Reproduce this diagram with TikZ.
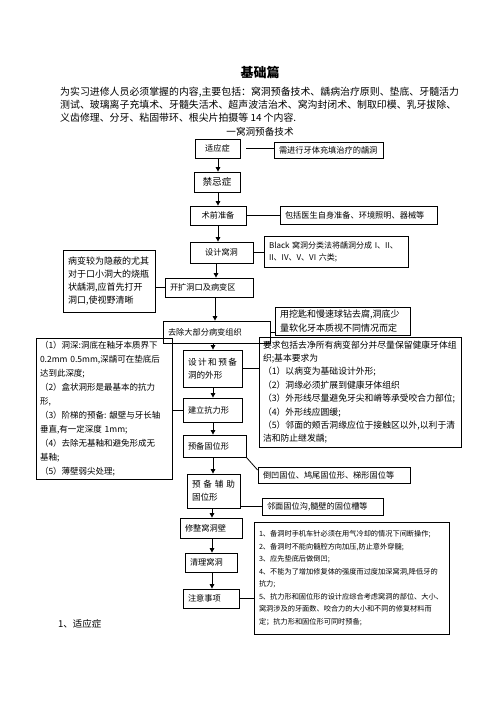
\documentclass[tikz,border=0pt]{standalone}
\usepackage{fontspec}
\setmainfont{Noto Sans CJK SC}
\usetikzlibrary{arrows.meta}
\begin{document}
\begin{tikzpicture}[x=1pt,y=-1pt,
  bx/.style={draw, line width=0.8pt, inner ysep=0pt, inner xsep=5pt, align=left, font=\fontsize{8.2}{12}\selectfont},
  conn/.style={line width=0.8pt},
  arr/.style={line width=1pt, -{Triangle[length=4.5pt,width=4.5pt]}},
  txt/.style={inner sep=0pt, align=left}
  ]
\useasboundingbox (0,0) rectangle (496,702);
\fill[white] (0,0) rectangle (496,702);

% texts
\node[txt, font=\fontsize{13}{15}\selectfont\bfseries] (title) at (260,73) {基础篇};
\node[txt, anchor=north west, font=\fontsize{9.9}{13}\selectfont] (intro) at (60,87) {为实习进修人员必须掌握的内容,主要包括：窝洞预备技术、龋病治疗原则、垫底、牙髓活力\\测试、玻璃离子充填术、牙髓失活术、超声波洁治术、窝沟封闭术、制取印模、乳牙拔除、\\义齿修理、分牙、粘固带环、根尖片拍摄等~14~个内容.};
\node[txt, font=\fontsize{9.6}{12}\selectfont] (sub) at (260,132) {一窝洞预备技术};

% boxes
\node[bx, text width=35, minimum height=19, align=center] (a1) at (217.5,148.5) {适应症};
\node[bx, text width=99, minimum height=16] (a1r) at (328.5,150) {需进行牙体充填治疗的龋洞};
\node[bx, text width=36, minimum height=20, align=center, font=\fontsize{9.6}{12}\selectfont] (a2) at (217,182) {禁忌症};
\node[bx, text width=46, minimum height=19, align=center] (a3) at (218,215.5) {术前准备};
\node[bx, text width=147, minimum height=18] (a3r) at (358.5,215) {包括医生自身准备、环境照明、器械等};
\node[bx, text width=53, minimum height=21, align=center] (a4) at (221.5,252.5) {设计窝洞};
\node[bx, text width=134, minimum height=31, font=\fontsize{8}{12}\selectfont] (a4r) at (336,251.5) {Black~窝洞分类法将龋洞分成~I、II、\\II、IV、V、VI~六类;};
\node[bx, text width=82, minimum height=62, font=\fontsize{9}{12.7}\selectfont] (a5l) at (109,281) {病变较为隐蔽的尤其\\对于口小洞大的烧瓶\\状龋洞,应首先打开\\洞口,使视野清晰};
\node[bx, text width=78, minimum height=19] (a5) at (209,287.5) {开扩洞口及病变区};
\node[bx, text width=125, minimum height=28, font=\fontsize{9}{14}\selectfont] (a6r) at (342.5,321) {用挖匙和慢速球钻去腐,洞底少\\量软化牙本质视不同情况而定};
\node[bx, text width=97, minimum height=22] (a6) at (216.5,332) {去除大部分病变组织};
\node[bx, inner xsep=4pt, text width=128, minimum height=141, font=\fontsize{8.5}{14}\selectfont] (b0) at (104,408.5) {（1）洞深:洞底在釉牙本质界下\\0.2mm~0.5mm,深龋可在垫底后\\达到此深度;\\（2）盒状洞形是最基本的抗力\\形,\\（3）阶梯的预备:~龈壁与牙长轴\\垂直,有一定深度~1mm;\\（4）去除无基釉和避免形成无\\基釉;\\（5）薄壁弱尖处理;};
\node[bx, text width=49, minimum height=37, font=\fontsize{8.6}{12.5}\selectfont] (b1) at (212.5,368.5) {\makebox[49pt][s]{设\hfill 计\hfill 和\hfill 预\hfill 备}\\洞的外形};
\node[bx, inner xsep=4pt, text width=194, minimum height=110, font=\fontsize{8.8}{13.4}\selectfont] (b1r) at (360,392) {要求包括去净所有病变部分并尽量保留健康牙体组\\织;基本要求为\\（1）以病变为基础设计外形;\\（2）洞缘必须扩展到健康牙体组织\\（3）外形线尽量避免牙尖和嵴等承受咬合力部位;\\（4）外形线应圆缓;\\（5）邻面的颊舌洞缘应位于接触区以外,以利于清\\洁和防止继发龋;};
\node[bx, text width=49, minimum height=24] (b2) at (212.5,410) {建立抗力形};
\node[bx, text width=53, minimum height=22] (b3) at (214.5,446) {预备固位形};
\node[bx, text width=142, minimum height=16] (b3r) at (334,475) {倒凹固位、鸠尾固位形、梯形固位等};
\node[bx, text width=43, minimum height=34, font=\fontsize{8.6}{13}\selectfont] (b4) at (213.5,491) {\makebox[43pt][s]{预\hfill 备\hfill 辅\hfill 助}\\固位形};
\node[bx, text width=111, minimum height=17] (b4r) at (322.5,506.5) {邻面固位沟,髓壁的固位槽等};
\node[bx, text width=52, minimum height=20] (c1) at (211,528) {修整窝洞壁};
\node[bx, text width=42, minimum height=19] (c2) at (211,562.5) {清理窝洞};
\node[bx, text width=46, minimum height=19] (c3) at (211,598.5) {注意事项};
\node[bx, text width=185, minimum height=112, font=\fontsize{7.2}{12.5}\selectfont] (c3r) at (351.5,578) {1、备洞时手机车针必须在用气冷却的情况下间断操作;\\2、备洞时不能向髓腔方向加压,防止意外穿髓;\\3、应先垫底后做倒凹;\\4、不能为了增加修复体的强度而过度加深窝洞,降低牙的\\抗力;\\5、抗力形和固位形的设计应综合考虑窝洞的部位、大小、\\窝洞涉及的牙面数、咬合力的大小和不同的修复材料而\\定；抗力形和固位形可同时预备;};

\node[txt, anchor=west, font=\fontsize{9.5}{12}\selectfont] (t4) at (58,624) {1、适应症};

% arrow x positions
\coordinate (xA) at (218,0);
\coordinate (xB) at (216,0);
\coordinate (xC) at (215,0);
\coordinate (xD) at (213,0);
\coordinate (xE) at (212,0);

\draw[arr] (a1.south -| xA) -- (a2.north -| xA);
\draw[arr] (a2.south -| xA) -- (a3.north -| xA);
\draw[arr] (a3.south -| xA) -- (a4.north -| xA);
\draw[arr] (a4.south -| xB) -- (a5.north -| xB);
\draw[arr] (a5.south -| xC) -- (a6.north -| xC);
\draw[arr] (a6.south -| xD) -- (b1.north -| xD);
\draw[arr] (b1.south -| xD) -- (b2.north -| xD);
\draw[arr] (b2.south -| xD) -- (b3.north -| xD);
\draw[arr] (b3.south -| xD) -- (b4.north -| xD);
\draw[arr] (b4.south -| xE) -- (c1.north -| xE);
\draw[arr] (c1.south -| xE) -- (c2.north -| xE);
\draw[arr] (c2.south -| xE) -- (c3.north -| xE);

% connectors
\draw[conn, shorten <=6pt] (a1.east) -- (a1.east -| a1r.west);
\draw[conn] (a3.east) -- (a3.east -| a3r.west);
\draw[conn] (a4.east) -- (a4.east -| a4r.west);
\draw[conn] (a5.west -| a5l.east) -- (a5.west);
\draw[conn] (a6.east) -- (a6.east -| a6r.west);
\draw[conn] (b1.east) -- (b1.east -| b1r.west);
\draw[conn] (b2.west) -- (b2.west -| b0.east);
\draw[conn] (b3.south east) -- ([yshift=5pt]b3r.west);
\draw[conn] (b4r.west) -- (b4r.west -| b4.east);
\draw[conn] (c3.east) -- (c3.east -| c3r.west);
\end{tikzpicture}
\end{document}
